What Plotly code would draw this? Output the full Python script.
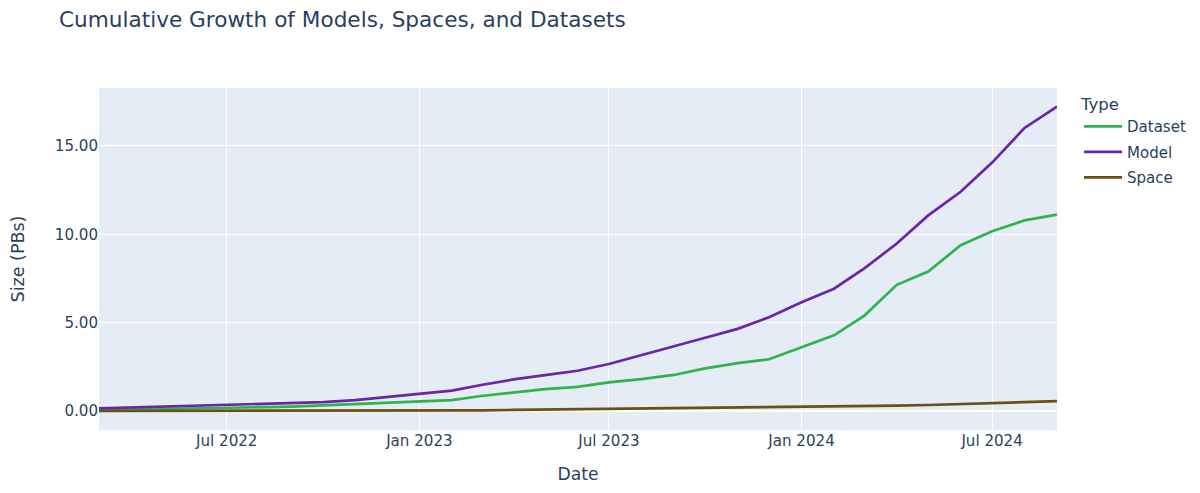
import pandas as pd
import plotly.graph_objects as go

dates = pd.date_range("2022-03-01", "2024-09-01", freq="MS")

dataset = [0.05, 0.08, 0.10, 0.13, 0.15, 0.20, 0.25, 0.32, 0.40, 0.47,
           0.53, 0.62, 0.85, 1.05, 1.24, 1.37, 1.62, 1.80, 2.04, 2.41,
           2.71, 2.93, 3.59, 4.28, 5.40, 7.14, 7.89, 9.38, 10.17, 10.79, 11.12]
model = [0.15, 0.20, 0.25, 0.30, 0.34, 0.39, 0.43, 0.50, 0.62, 0.80,
         1.00, 1.15, 1.47, 1.79, 2.03, 2.28, 2.66, 3.15, 3.65, 4.15,
         4.65, 5.31, 6.15, 6.92, 8.07, 9.48, 11.07, 12.41, 14.06, 16.02, 17.23]
space = [0.00, 0.00, 0.00, 0.00, 0.01, 0.01, 0.01, 0.01, 0.01, 0.02,
         0.02, 0.03, 0.04, 0.06, 0.08, 0.10, 0.12, 0.13, 0.14, 0.15,
         0.16, 0.18, 0.21, 0.24, 0.27, 0.30, 0.34, 0.39, 0.45, 0.50, 0.56]

series = [("Dataset", dataset, "#2DB54B"),
          ("Model", model, "#6A25A8"),
          ("Space", space, "#6B4F14")]

fig = go.Figure()
for name, vals, color in series:
    fig.add_trace(go.Scatter(x=dates, y=vals, mode="lines", name=name,
                             legendgroup=name,
                             line=dict(color=color, width=2.7)))

fig.update_layout(
    width=1200, height=493,
    font=dict(family="DejaVu Sans, Verdana, sans-serif", color="#2a3f5f", size=15),
    title=dict(text="Cumulative Growth of Models, Spaces, and Datasets",
               x=0.0425, xanchor="left", y=0.993, yanchor="top",
               pad=dict(t=0, b=0), font=dict(size=21.6)),
    margin=dict(l=91, r=151, t=80, b=71),
    plot_bgcolor="#E5ECF6",
    paper_bgcolor="white",
    legend=dict(title=dict(text="Type", font=dict(size=16.5)), font=dict(size=15),
                x=1.023, xanchor="left", y=0.998, yanchor="top", itemwidth=38,
                traceorder="grouped", tracegroupgap=3),
    xaxis=dict(title=dict(text="Date", font=dict(size=17.2), standoff=18),
               automargin=False, gridcolor="white",
               gridwidth=1.3, tickfont=dict(size=15.1),
               showline=False, zeroline=False, dtick="M6", tickformat="%b %Y"),
    yaxis=dict(title=dict(text="Size (PBs)", font=dict(size=17.5), standoff=33),
               automargin=False,
               gridcolor="white", gridwidth=1.3, tickfont=dict(size=15.1),
               tickformat=".2f", range=[-1.075, 18.28], dtick=5,
               zeroline=True, zerolinecolor="white", zerolinewidth=2),
)

fig.write_html("out.html")
